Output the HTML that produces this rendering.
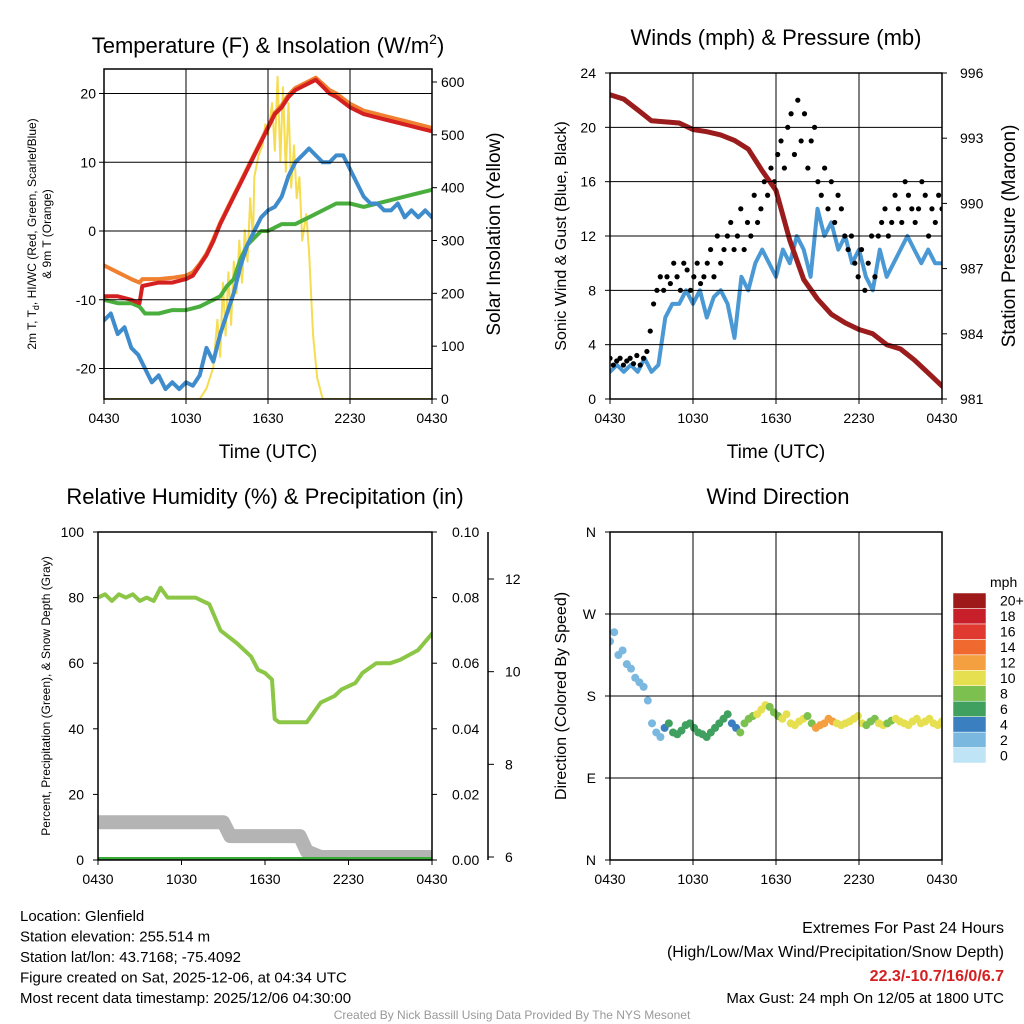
<!DOCTYPE html>
<html><head><meta charset="utf-8">
<style>
html,body{margin:0;padding:0;background:#fff;}
svg{display:block;font-family:"Liberation Sans",sans-serif;}
</style></head>
<body>
<svg id="c" width="1024" height="1024" viewBox="0 0 1024 1024" xmlns="http://www.w3.org/2000/svg"></svg>
<script>
// ---------- DATA ----------
const xTickLabels = ["0430","1030","1630","2230","0430"];
const tempTicks = [-20,-10,0,10,20];
const solarTicks = [0,100,200,300,400,500,600];
const windTicks = [0,4,8,12,16,20,24];
const presTicks = [981,984,987,990,993,996];
const rhTicks = [0,20,40,60,80,100];
const precipTicks = ["0.00","0.02","0.04","0.06","0.08","0.10"];
const snowTicks = [6,8,10,12];
const dirTicks = ["N","E","S","W","N"];
const cbLabels = ["0","2","4","6","8","10","12","14","16","18","20+"];
const cbColors = ["#bfe4f6","#7ab8e0","#3a80c0","#40a060","#7cc050","#e6e050","#f5a040","#f06a30","#e03a30","#c8202a","#9e1a1a"];

const redH = [0,1,2,2.6,2.8,4,5,6,6.5,7,7.5,8,8.5,9,9.5,10,10.5,11,11.5,12,12.5,13,13.5,14,14.5,15,15.5,16,16.5,17,18,19,20,21,22,23,24];
const redV = [-9.5,-9.5,-10,-10.5,-8,-7.5,-7.5,-7,-6.5,-5,-3.5,-1.5,1,3,5,7,9,11,13,15,17,18,19.5,20.5,21,21.5,22,21,20,19.5,18,17,16.5,16,15.5,15,14.5];
const orangeV = [-5,-6,-7,-7.5,-7,-7,-6.8,-6.5,-6,-4.8,-3.3,-1.2,1.2,3.2,5.2,7.2,9.2,11.2,13.2,15.2,17.2,18.3,19.8,20.8,21.3,21.8,22.3,21.4,20.5,20,18.5,17.5,17,16.5,16,15.5,15];
const tdV = [-13,-12,-15,-14,-17,-18,-20,-22,-21,-23,-22,-23,-22,-22.5,-21,-17,-19,-15,-12,-9,-5,-2,0,2,3,3.5,5,8,10,11,12,11,10,10,11,11,9,7,5,4,4,3,3,4,2,3,2,3,2];
const greenH = [0,1,2,2.6,3,4,5,6,7,8,8.5,9,9.5,10,10.5,11,11.5,12,12.5,13,14,15,16,17,18,19,20,21,22,23,24];
const greenV = [-10,-10.5,-10.5,-11,-12,-12,-11.5,-11.5,-11,-10,-9.5,-8,-7,-4,-2,-1,0,0,0.5,1,1,2,3,4,4,3.5,4,4.5,5,5.5,6];
const solarH = [0,7,7.5,8,8.3,8.5,8.7,8.9,9.1,9.3,9.5,9.7,9.9,10.1,10.3,10.5,10.7,10.9,11,11.3,11.6,11.8,12,12.3,12.5,12.7,12.9,13.1,13.3,13.5,13.7,13.9,14.1,14.3,14.5,14.8,15,15.3,15.6,16,24];
const solarV = [0,0,20,60,150,80,220,120,240,140,260,200,300,220,320,260,380,300,420,460,480,520,500,560,470,610,450,590,430,560,400,480,380,420,300,350,280,120,40,0,0];

const windV = [2,2.5,2,2.5,2,3,2,2.5,6,7,7,8,7,8,6,7.5,8,7,4.5,9,8,10,11,10,9,11,10,12,11,9,14,12,13,11,12,10,11,9,8,11,9,10,11,12,11,10,11,10,10];
const gustV = [3,2.5,2.8,3,2.5,2.8,3,2.6,3.2,2.5,3,3.5,
 5,7,8,9,8,
 9,8.5,10,9,8,10,9.5,8,9,10,8.5,9,10,
 11,9,12,10,11,12,13,11,
 12,14,11,13,12,15,13,14,
 16,15,17,16,18,
 19,17,20,21,18,22,19,21,17,19,20,16,
 15,17,14,16,13,15,14,12,
 11,12,10,9,11,8,10,12,9,
 12,13,14,12,13,15,14,13,16,15,14,
 13,14,16,15,12,14,13,15,14];
const presV = [995.0,994.8,994.3,993.8,993.75,993.7,993.4,993.3,993.15,992.9,992.5,991.5,990.6,988.3,986.5,985.6,984.9,984.5,984.2,984.0,983.5,983.3,982.8,982.2,981.6];

const rhH = [0,0.5,1,1.5,2,2.5,3,3.5,4,4.5,5,6,7,7.5,8,8.8,10,11,11.5,12,12.5,12.7,13,14,14.5,15,16,17,17.5,18.5,19,20,21,21.7,23,24];
const rhV = [80,81,79,81,80,81,79,80,79,83,80,80,80,79,78,70,66,62,58,57,55,43,42,42,42,42,48,50,52,54,57,60,60,61,64,69];
const snowH = [0,9,9.5,14.5,15,16,24];
const snowV = [6.75,6.75,6.45,6.45,6.12,6.0,6.0];
const precipV = [0,0];

const dirV = [240,250,225,230,215,210,200,195,190,175,150,140,135,145,150,140,138,142,148,150,145,140,138,135,140,145,150,155,160,150,145,140,150,155,158,160,165,170,168,162,158,155,160,150,148,152,155,158,150,145,148,150,155,152,150,148,150,152,155,158,150,148,152,155,150,148,150,153,155,152,150,148,152,155,150,152,155,150,148,152];

// ---------- HELPERS ----------
const NS="http://www.w3.org/2000/svg";
const svg=document.getElementById('c');
function mk(tag,attrs,parent){const e=document.createElementNS(NS,tag);for(const k in attrs)e.setAttribute(k,attrs[k]);(parent||svg).appendChild(e);return e;}
function txt(s,x,y,size,anchor,parent,extra){const e=mk('text',Object.assign({x:x,y:y,'font-size':size,'text-anchor':anchor||'middle',fill:'#000'},extra||{}),parent);e.textContent=s;return e;}
function uni(n,i){return i*24/(n-1);}
function interp(hs,vs,h){for(let i=1;i<hs.length;i++){if(h<=hs[i]){const f=(h-hs[i-1])/(hs[i]-hs[i-1]);return vs[i-1]+f*(vs[i]-vs[i-1]);}}return vs[vs.length-1];}

function panel(name,x0,y0,x1,y1){
  const g=mk('g',{});
  
  
  const cp=mk('clipPath',{id:'cp-'+name},g);
  mk('rect',{x:x0,y:y0,width:x1-x0,height:y1-y0},cp);
  const plot=mk('g',{'clip-path':'url(#cp-'+name+')'},g);
  
  
  return {g,plot};
}
function grid(p,x0,y0,x1,y1,xs,ys){
  const gg=mk('g',{stroke:'#000','stroke-width':1},p.g);
  
  
  xs.forEach(x=>mk('line',{x1:x,y1:y0,x2:x,y2:y1},gg));
  ys.forEach(y=>mk('line',{x1:x0,y1:y,x2:x1,y2:y},gg));
}
function frame(p,x0,y0,x1,y1){
  const r=mk('rect',{x:x0,y:y0,width:x1-x0,height:y1-y0,fill:'none',stroke:'#000','stroke-width':1.5},p.g);
  
  
}
function poly(parent,pts,color,w,name){
  const e=mk('polyline',{points:pts.map(p=>p[0].toFixed(1)+','+p[1].toFixed(1)).join(' '),fill:'none',stroke:color,'stroke-width':w,'stroke-linejoin':'round','stroke-linecap':'round'},parent);
  
  
  return e;
}
function xAxis(p,xf,yb){
  xTickLabels.forEach((l,i)=>{const h=i*6;const x=xf(h);
    mk('line',{x1:x,y1:yb,x2:x,y2:yb+5,stroke:'#000'},p.g);
    const t=txt(l,x,yb+24,14,'middle',p.g);
    
    
  });
}

// ---------- PANEL 1 ----------
{
const X0=104,Y0=69,X1=432,Y1=399;
const x=h=>X0+h*(X1-X0)/24, yT=v=>231-v*6.875, yS=s=>399-s*317/600;
const p=panel('temperature-panel',X0,Y0,X1,Y1);
grid(p,X0,Y0,X1,Y1,[1,2,3].map(i=>x(i*6)),tempTicks.map(yT));
poly(p.plot,solarH.map((h,i)=>[x(h),yS(solarV[i])]),'#f5dc50',2,'solar-insolation-line');
poly(p.plot,greenH.map((h,i)=>[x(h),yT(greenV[i])]),'#4aae3e',4,'heat-index-wind-chill-line');
poly(p.plot,tdV.map((v,i)=>[x(uni(tdV.length,i)),yT(v)]),'#3f8ccc',4,'dewpoint-line');
poly(p.plot,redH.map((h,i)=>[x(h),yT(orangeV[i])]),'#f08030',4,'9m-temperature-line');
poly(p.plot,redH.map((h,i)=>[x(h),yT(redV[i])]),'#d42020',4,'2m-temperature-line');
frame(p,X0,Y0,X1,Y1);
tempTicks.forEach(v=>{const y=yT(v);mk('line',{x1:X0-5,y1:y,x2:X0,y2:y,stroke:'#000'},p.g);const t=txt(String(v),X0-8,y+5,14,'end',p.g);});
solarTicks.forEach(v=>{const y=yS(v);mk('line',{x1:X1,y1:y,x2:X1+5,y2:y,stroke:'#000'},p.g);const t=txt(String(v),X1+9,y+5,14,'start',p.g);});
xAxis(p,x,Y1);
const t1=mk('text',{x:268,y:53,'font-size':22,'text-anchor':'middle'},p.g);t1.innerHTML='Temperature (F) &amp; Insolation (W/m<tspan dy="-9" font-size="14">2</tspan><tspan dy="9">)</tspan>';

const xt=txt('Time (UTC)',268,458,19,'middle',p.g);
const yl=mk('text',{x:0,y:0,'font-size':12,'text-anchor':'middle',transform:'translate(36,234) rotate(-90)'},p.g);
yl.innerHTML='2m T, T<tspan dy="3" font-size="9">d</tspan><tspan dy="-3">, HI/WC (Red, Green, Scarlet/Blue)</tspan>';

const yl2=mk('text',{x:0,y:0,'font-size':12,'text-anchor':'middle',transform:'translate(51,234) rotate(-90)'},p.g);yl2.textContent='& 9m T (Orange)';

const yr=mk('text',{x:0,y:0,'font-size':19,'text-anchor':'middle',transform:'translate(500,234) rotate(-90)'},p.g);yr.textContent='Solar Insolation (Yellow)';

}

// ---------- PANEL 2 ----------
{
const X0=610,Y0=73,X1=942,Y1=399;
const x=h=>X0+h*(X1-X0)/24, yW=v=>399-v*326/24, yP=v=>399-(v-981)*326/15;
const p=panel('wind-pressure-panel',X0,Y0,X1,Y1);
grid(p,X0,Y0,X1,Y1,[1,2,3].map(i=>x(i*6)),windTicks.map(yW));
poly(p.plot,windV.map((v,i)=>[x(uni(windV.length,i)),yW(v)]),'#4a98d4',4,'sonic-wind-line');
gustV.forEach((v,i)=>{const c=mk('circle',{cx:x(uni(gustV.length,i)),cy:yW(v),r:2.6,fill:'#000'},p.plot);
  
  });
poly(p.plot,presV.map((v,i)=>[x(uni(presV.length,i)),yP(v)]),'#9a1c1c',5,'station-pressure-line');
frame(p,X0,Y0,X1,Y1);
windTicks.forEach(v=>{const y=yW(v);mk('line',{x1:X0-5,y1:y,x2:X0,y2:y,stroke:'#000'},p.g);const t=txt(String(v),X0-14,y+5,14,'end',p.g);});
presTicks.forEach(v=>{const y=yP(v);mk('line',{x1:X1,y1:y,x2:X1+5,y2:y,stroke:'#000'},p.g);const t=txt(String(v),X1+18,y+5,14,'start',p.g);});
xAxis(p,x,Y1);
const t1=txt('Winds (mph) & Pressure (mb)',776,45,22,'middle',p.g);
const xt=txt('Time (UTC)',776,458,19,'middle',p.g);
const yl=mk('text',{x:0,y:0,'font-size':16,'text-anchor':'middle',transform:'translate(566,236) rotate(-90)'},p.g);yl.textContent='Sonic Wind & Gust (Blue, Black)';

const yr=mk('text',{x:0,y:0,'font-size':19,'text-anchor':'middle',transform:'translate(1015,236) rotate(-90)'},p.g);yr.textContent='Station Pressure (Maroon)';

}

// ---------- PANEL 3 ----------
{
const X0=98,Y0=532,X1=432,Y1=860;
const x=h=>X0+h*(X1-X0)/24, yR=v=>860-v*3.28, yS=d=>857-(d-6)*278/6;
const p=panel('humidity-panel',X0,Y0,X1,Y1);
poly(p.plot,snowH.map((h,i)=>[x(h),yS(snowV[i])]),'#b4b4b4',14,'snow-depth-line');
poly(p.plot,rhH.map((h,i)=>[x(h),yR(rhV[i])]),'#8cc646',4,'relative-humidity-line');
poly(p.plot,precipV.map((v,i)=>[x(uni(precipV.length,i)),yR(v*1000)]),'#3aaa3a',6,'precipitation-line');
frame(p,X0,Y0,X1,Y1);
rhTicks.forEach(v=>{const y=yR(v);mk('line',{x1:X0-5,y1:y,x2:X0,y2:y,stroke:'#000'},p.g);const t=txt(String(v),X0-14,y+5,14,'end',p.g);});
precipTicks.forEach((v,i)=>{const y=yR(i*20);mk('line',{x1:X1,y1:y,x2:X1+5,y2:y,stroke:'#000'},p.g);const t=txt(v,X1+20,y+5,14,'start',p.g);});
const ax=mk('line',{x1:488,y1:532,x2:488,y2:860,stroke:'#000','stroke-width':1.5},p.g);
snowTicks.forEach(v=>{const y=yS(v);mk('line',{x1:488,y1:y,x2:494,y2:y,stroke:'#000'},p.g);const t=txt(String(v),505,y+5,14,'start',p.g);});
xAxis(p,x,Y1);
const t1=txt('Relative Humidity (%) & Precipitation (in)',265,504,22,'middle',p.g);
const yl=mk('text',{x:0,y:0,'font-size':12,'text-anchor':'middle',transform:'translate(50,696) rotate(-90)'},p.g);yl.textContent='Percent, Precipitation (Green), & Snow Depth (Gray)';

}

// ---------- PANEL 4 ----------
{
const X0=610,Y0=532,X1=942,Y1=860;
const x=h=>X0+h*(X1-X0)/24, yD=d=>860-d*328/360;
const p=panel('wind-direction-panel',X0,Y0,X1,Y1);
grid(p,X0,Y0,X1,Y1,[1,2,3].map(i=>x(i*6)),[90,180,270].map(yD));
dirV.forEach((d,i)=>{const h=uni(dirV.length,i);const sp=interp(windV.map((_,k)=>uni(windV.length,k)),windV,h);
  const bin=Math.max(0,Math.min(10,Math.floor(sp/2)));
  const c=mk('circle',{cx:x(h),cy:yD(d),r:4,fill:cbColors[bin]},p.plot);
  
  });
frame(p,X0,Y0,X1,Y1);
dirTicks.forEach((l,i)=>{const y=yD(i*90);mk('line',{x1:X0-5,y1:y,x2:X0,y2:y,stroke:'#000'},p.g);const t=txt(l,X0-14,y+5,14,'end',p.g);});
xAxis(p,x,Y1);
const t1=txt('Wind Direction',778,504,22,'middle',p.g);
const yl=mk('text',{x:0,y:0,'font-size':16,'text-anchor':'middle',transform:'translate(566,696) rotate(-90)'},p.g);yl.textContent='Direction (Colored By Speed)';

const cb=mk('g',{},p.g);
const bh=170/11;
cbColors.forEach((c,i)=>{const y=763-(i+1)*bh;const r=mk('rect',{x:953,y:y,width:33,height:bh,fill:c,stroke:'#fff','stroke-width':0.5},cb);
  
  const t=txt(cbLabels[i],1000,y+bh/2+5,14,'start',cb);});
const u=txt('mph',990,587,14,'start',cb);
}

// ---------- FOOTER ----------
const info=["Location: Glenfield","Station elevation: 255.514 m","Station lat/lon: 43.7168; -75.4092","Figure created on Sat, 2025-12-06, at 04:34 UTC","Most recent data timestamp: 2025/12/06 04:30:00"];
info.forEach((s,i)=>{const t=txt(s,20,921+i*20.5,15,'start');});
const r1=txt('Extremes For Past 24 Hours',1004,933,16,'end');
const r2=txt('(High/Low/Max Wind/Precipitation/Snow Depth)',1004,957,16,'end');
const r3=txt('22.3/-10.7/16/0/6.7',1004,981,16,'end',null,{fill:'#d42020','font-weight':'bold'});
const r4=txt('Max Gust: 24 mph On 12/05 at 1800 UTC',1004,1003,15,'end');
const cr=txt('Created By Nick Bassill Using Data Provided By The NYS Mesonet',512,1019,12,'middle',null,{fill:'#999'});
</script>
</body></html>
